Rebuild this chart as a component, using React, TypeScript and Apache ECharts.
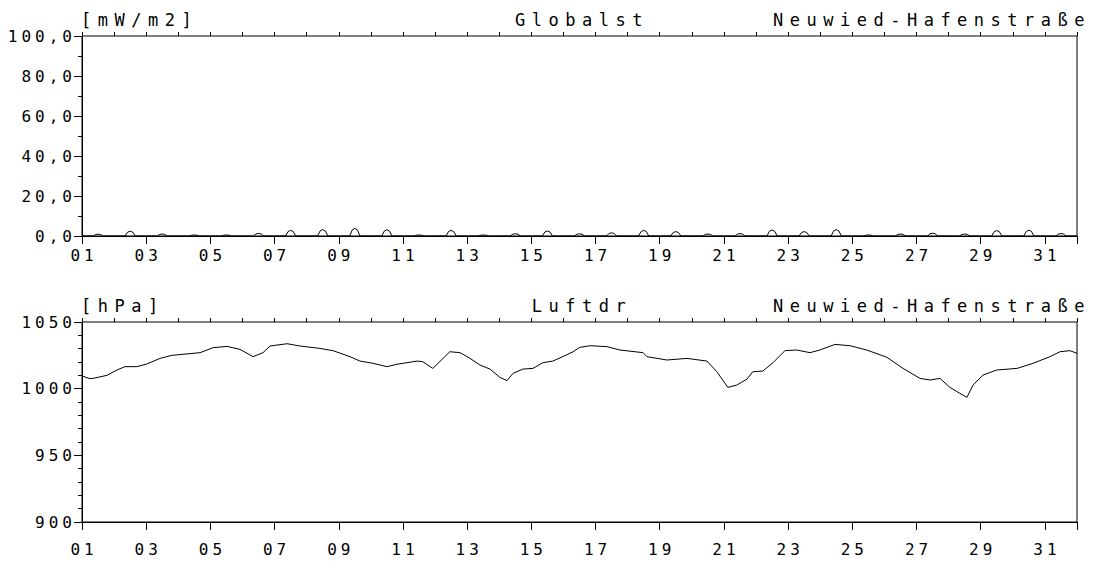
import React, { useEffect, useRef } from "react";
import * as echarts from "echarts";

// X axis: days of month (0 = start of day 01, 31 = end of day 31)
const dayLabelValues = [0, 2, 4, 6, 8, 10, 12, 14, 16, 18, 20, 22, 24, 26, 28, 30];

// Globalstrahlung: midday peak per day (mW/m2)
const globalPeak = [
  0.9, 2.4, 1.0, 0.5, 0.5, 1.3, 2.8, 3.2, 3.8, 3.1,
  0.5, 2.8, 0.5, 1.1, 2.5, 1.1, 1.6, 2.8, 2.2, 1.0,
  1.2, 3.0, 2.2, 3.2, 0.5, 1.0, 1.4, 1.0, 2.7, 2.9, 1.2,
];

// Luftdruck (hPa) readings
const pressDay = [
  0, 0.25, 0.4, 0.78, 1.09, 1.34, 1.71, 2.02, 2.43, 2.8,
  3.68, 4.08, 4.52, 4.92, 5.33, 5.64, 5.86, 6.39, 6.79, 7.41,
  7.82, 8.35, 8.66, 9.07, 9.5, 9.81, 10.0, 10.44, 10.62, 10.93,
  11.25, 11.46, 11.78, 12.09, 12.4, 12.71, 13.02, 13.24, 13.43, 13.74,
  14.05, 14.36, 14.67, 14.98, 15.3, 15.51, 15.83, 16.36, 16.76, 17.48,
  17.6, 18.22, 18.85, 19.47, 19.78, 20.12, 20.4, 20.72, 20.9, 21.21,
  21.53, 21.9, 22.27, 22.68, 22.99, 23.46, 23.93, 24.45, 25.08, 25.58,
  26.11, 26.42, 26.73, 27.04, 27.35, 27.57, 27.76, 28.07, 28.5, 29.13,
  29.63, 30.16, 30.47, 30.78, 31.0,
];
const pressHpa = [
  1009.5, 1007.5, 1008, 1010, 1014, 1016.5, 1016.5, 1018.5, 1022.7, 1025,
  1027, 1030.7, 1031.7, 1029.5, 1024, 1027, 1032, 1033.7, 1032, 1030.2,
  1028.5, 1024, 1020.7, 1019, 1016.5, 1018.3, 1019, 1020.7, 1020.2, 1015.2,
  1022.7, 1027.7, 1027, 1022.7, 1017.7, 1014.7, 1008.5, 1006, 1011.5, 1014.7,
  1015.2, 1019.5, 1020.7, 1024, 1027.7, 1031, 1032.2, 1031.5, 1029, 1027,
  1024, 1021.5, 1022.7, 1020.7, 1012.7, 1001, 1002.7, 1007.2, 1012.7, 1013.2,
  1019.5, 1028.5, 1029, 1027, 1029, 1033.2, 1032.2, 1029, 1023.5, 1015.2,
  1007.7, 1006.5, 1007.7, 1001, 996.5, 993.5, 1002.7, 1010.2, 1014, 1015.2,
  1019, 1024, 1027.7, 1028.5, 1026.5,
];

const FONT = "'DejaVu Sans Mono', 'Liberation Mono', monospace";

function dayLabel(v: number): string {
  if (v > 30 || !dayLabelValues.includes(v)) return "";
  return String(v + 1).padStart(2, "0");
}

export default function App() {
  const ref = useRef<HTMLDivElement>(null);

  useEffect(() => {
    if (!ref.current) return;
    const chart = echarts.init(ref.current, undefined, { renderer: "svg" });

    const globalData: number[][] = [[0, 0]];
    globalPeak.forEach((p, d) => {
      globalData.push([d + 0.34, 0], [d + 0.42, p * 0.8], [d + 0.5, p], [d + 0.58, p * 0.8], [d + 0.66, 0]);
    });
    globalData.push([31, 0]);
    const pressData = pressDay.map((d, i) => [d, pressHpa[i]]);

    const black = "#000";
    const labelStyle = { color: black, fontFamily: FONT, fontSize: 16 };

    const grids = [
      { left: 82, top: 36, width: 995, height: 200 },
      { left: 82, top: 322, width: 995, height: 200 },
    ];

    const xMajor = (gi: number, margin: number) => ({
      type: "value",
      gridIndex: gi,
      min: 0,
      max: 31,
      interval: 2,
      axisLine: { show: true, lineStyle: { color: black, width: 1 } },
      axisTick: { show: true, length: 8, lineStyle: { color: black } },
      axisLabel: { ...labelStyle, margin, padding: [0, 0, 0, 4], formatter: dayLabel },
      splitLine: { show: false },
    });
    const xMinor = (gi: number) => ({
      type: "value",
      gridIndex: gi,
      min: 0,
      max: 31,
      interval: 1,
      axisLine: { show: false },
      axisTick: { show: true, length: 4, lineStyle: { color: black } },
      axisLabel: { show: false },
      splitLine: { show: false },
    });

    const titleStyle = { color: black, fontFamily: FONT, fontSize: 17, fontWeight: "normal" };
    const mkTitle = (text: string, left: number, top: number, align: string) => ({
      text,
      left,
      top,
      padding: 0,
      textAlign: align,
      textStyle: titleStyle,
    });

    chart.setOption({
      animation: false,
      backgroundColor: "#fff",
      title: [
        mkTitle("[mW/m2]", 81, 11, "left"),
        mkTitle("Globalst", 582, 11, "center"),
        mkTitle("Neuwied-Hafenstraße", 1091, 11, "right"),
        mkTitle("[hPa]", 81, 297, "left"),
        mkTitle("Luftdr", 582, 297, "center"),
        mkTitle("Neuwied-Hafenstraße", 1091, 297, "right"),
      ],
      grid: grids.map((g) => ({
        ...g,
        show: true,
        borderColor: black,
        borderWidth: 1,
        backgroundColor: "transparent",
      })),
      xAxis: [xMajor(0, 11), xMinor(0), xMajor(1, 19), xMinor(1)],
      yAxis: [
        {
          type: "value",
          gridIndex: 0,
          min: 0,
          max: 100,
          interval: 20,
          axisLine: { show: true, lineStyle: { color: black, width: 1 } },
          axisTick: { show: true, length: 8, lineStyle: { color: black } },
          minorTick: { show: true, splitNumber: 2, length: 4, lineStyle: { color: black } },
          axisLabel: {
            ...labelStyle,
            margin: 6,
            formatter: (v: number) => v.toFixed(1).replace(".", ","),
          },
          splitLine: { show: false },
          minorSplitLine: { show: false },
        },
        {
          type: "value",
          gridIndex: 1,
          min: 900,
          max: 1050,
          interval: 50,
          axisLine: { show: true, lineStyle: { color: black, width: 1 } },
          axisTick: { show: true, length: 8, lineStyle: { color: black } },
          minorTick: { show: true, splitNumber: 5, length: 4, lineStyle: { color: black } },
          axisLabel: { ...labelStyle, margin: 6, formatter: (v: number) => String(v) },
          splitLine: { show: false },
          minorSplitLine: { show: false },
        },
      ],
      series: [
        {
          name: "Globalst",
          type: "line",
          xAxisIndex: 0,
          yAxisIndex: 0,
          data: globalData,
          symbol: "none",
          lineStyle: { color: black, width: 1 },
        },
        {
          name: "Luftdr",
          type: "line",
          xAxisIndex: 2,
          yAxisIndex: 1,
          data: pressData,
          symbol: "none",
          lineStyle: { color: black, width: 1 },
        },
      ],
    });

    return () => chart.dispose();
  }, []);

  return (
    <>
      <style>
        {".ech-root svg text { letter-spacing: 4px; } .ech-root svg text[style*='17px'] { letter-spacing: 6.5px; }"}
      </style>
      <div
        ref={ref}
        className="ech-root"
        style={{ position: "fixed", left: 0, top: 0, width: 1093, height: 565, background: "#fff" }}
      />
    </>
  );
}
